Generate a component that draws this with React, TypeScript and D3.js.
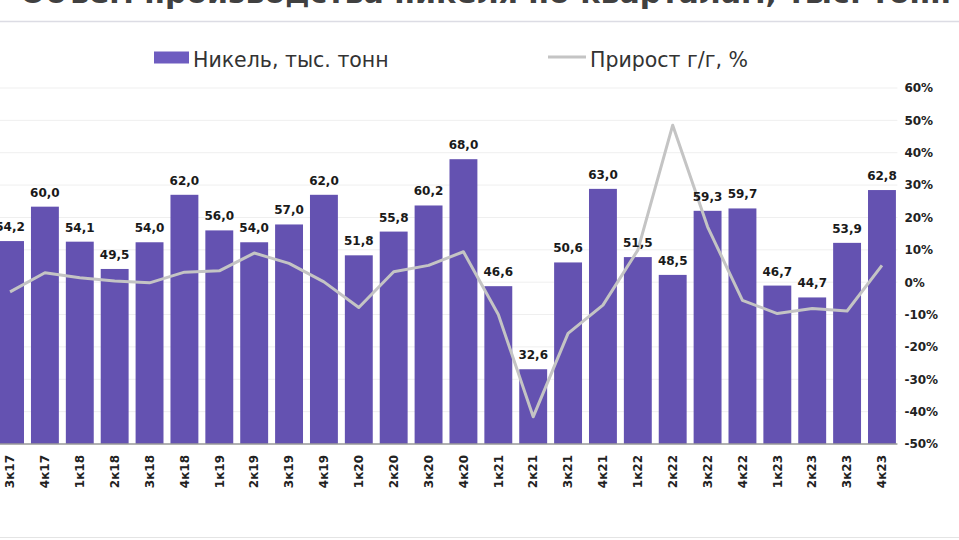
import React, { useEffect, useRef } from 'react';
import * as d3 from 'd3';

const quarters = [
  '3к17', '4к17',
  '1к18', '2к18', '3к18', '4к18',
  '1к19', '2к19', '3к19', '4к19',
  '1к20', '2к20', '3к20', '4к20',
  '1к21', '2к21', '3к21', '4к21',
  '1к22', '2к22', '3к22', '4к22',
  '1к23', '2к23', '3к23', '4к23',
];

// никель, тыс. тонн
const nickel = [
  54.2, 60.0,
  54.1, 49.5, 54.0, 62.0,
  56.0, 54.0, 57.0, 62.0,
  51.8, 55.8, 60.2, 68.0,
  46.6, 32.6, 50.6, 63.0,
  51.5, 48.5, 59.3, 59.7,
  46.7, 44.7, 53.9, 62.8,
];

// прирост г/г, %
const growth = [
  -3.0, 2.9,
  1.4, 0.4, -0.2, 3.1,
  3.5, 9.0, 5.8, 0.1,
  -7.8, 3.2, 5.2, 9.4,
  -10.0, -41.6, -15.8, -7.1,
  9.9, 48.5, 17.1, -5.6,
  -9.7, -8.1, -8.9, 5.2,
];

const pctTicks = [60, 50, 40, 30, 20, 10, 0, -10, -20, -30, -40, -50];

const W = 959;
const H = 540;
const BAR = '#6452b1';
const LINE = '#c4c4c4';
const FONT = '"DejaVu Sans", sans-serif';

export default function App() {
  const ref = useRef<SVGSVGElement>(null);

  useEffect(() => {
    const svg = d3.select(ref.current);
    svg.selectAll('*').remove();

    const left = -7.4, right = 899.4, top = 88, bottom = 444;

    const x = d3.scaleBand<string>()
      .domain(quarters)
      .range([left, right])
      .paddingInner(0.2)
      .paddingOuter(0.1);
    const yBar = d3.scaleLinear().domain([20, 80]).range([bottom, top]);
    const yPct = d3.scaleLinear().domain([-50, 60]).range([bottom, top]);

    // cropped title strip
    svg.append('text')
      .attr('x', 20).attr('y', 3)
      .attr('font-family', FONT).attr('font-size', 30).attr('font-weight', 'bold')
      .attr('fill', '#404040')
      .text('Объем производства никеля по кварталам, тыс. тонн');
    svg.append('line')
      .attr('x1', 0).attr('x2', W).attr('y1', 21.5).attr('y2', 21.5)
      .attr('stroke', '#dcdce4').attr('stroke-width', 1.5);

    // legend
    const lg = svg.append('g').attr('font-family', FONT).attr('font-size', 20.5).attr('fill', '#333');
    lg.append('rect').attr('x', 154).attr('y', 51.5).attr('width', 35).attr('height', 12).attr('fill', '#6e5cc0');
    lg.append('text').attr('x', 193).attr('y', 66.5).text('Никель, тыс. тонн');
    lg.append('line').attr('x1', 548).attr('x2', 586).attr('y1', 57).attr('y2', 57)
      .attr('stroke', LINE).attr('stroke-width', 3);
    lg.append('text').attr('x', 590).attr('y', 66.5).text('Прирост г/г, %');

    // grid
    svg.append('g')
      .selectAll('line')
      .data(pctTicks)
      .enter()
      .append('line')
      .attr('x1', 0).attr('x2', right - 2)
      .attr('y1', d => yPct(d)).attr('y2', d => yPct(d))
      .attr('stroke', '#efefef').attr('stroke-width', 1);

    // right axis
    const ra = svg.append('g')
      .attr('transform', `translate(${right + 2},0)`)
      .call(d3.axisRight(yPct).tickValues(pctTicks).tickSize(0).tickFormat(d => `${d}%`));
    ra.select('.domain').remove();
    ra.selectAll('text')
      .attr('font-family', FONT).attr('font-size', 12).attr('font-weight', 'bold')
      .attr('fill', '#222').attr('dx', 0);

    // bars
    svg.append('g')
      .selectAll('rect')
      .data(nickel)
      .enter()
      .append('rect')
      .attr('x', (d, i) => x(quarters[i])!)
      .attr('width', x.bandwidth())
      .attr('y', d => yBar(d))
      .attr('height', d => bottom - yBar(d))
      .attr('fill', BAR);

    // baseline
    svg.append('line')
      .attr('x1', left).attr('x2', right - 2)
      .attr('y1', bottom).attr('y2', bottom)
      .attr('stroke', '#9a9a9a').attr('stroke-width', 1.5);

    // x labels
    const xa = svg.append('g')
      .attr('transform', `translate(0,${bottom})`)
      .call(d3.axisBottom(x).tickSize(0));
    xa.select('.domain').remove();
    xa.selectAll('text')
      .attr('font-family', FONT).attr('font-size', 12).attr('font-weight', 'bold')
      .attr('fill', '#222')
      .attr('transform', 'rotate(-90)')
      .attr('text-anchor', 'end')
      .attr('x', -11).attr('y', 0).attr('dy', '0.35em');

    // line
    const line = d3.line<number>()
      .x((d, i) => x(quarters[i])! + x.bandwidth() / 2)
      .y(d => yPct(d));
    svg.append('path')
      .datum(growth)
      .attr('d', line)
      .attr('fill', 'none')
      .attr('stroke', LINE)
      .attr('stroke-width', 3)
      .attr('stroke-linejoin', 'round');

    // value labels
    svg.append('g')
      .selectAll('text')
      .data(nickel)
      .enter()
      .append('text')
      .attr('x', (d, i) => x(quarters[i])! + x.bandwidth() / 2)
      .attr('y', d => yBar(d) - 10)
      .attr('text-anchor', 'middle')
      .attr('font-family', FONT).attr('font-size', 12).attr('font-weight', 'bold')
      .attr('fill', '#1a1a1a')
      .text(d => d.toFixed(1).replace('.', ','));

    svg.append('line')
      .attr('x1', 0).attr('x2', W).attr('y1', 537.5).attr('y2', 537.5)
      .attr('stroke', '#e4e4e4').attr('stroke-width', 1);
  }, []);

  return (
    <svg
      ref={ref}
      width={W}
      height={H}
      style={{ position: 'absolute', left: 0, top: 0, background: '#fff' }}
    />
  );
}
